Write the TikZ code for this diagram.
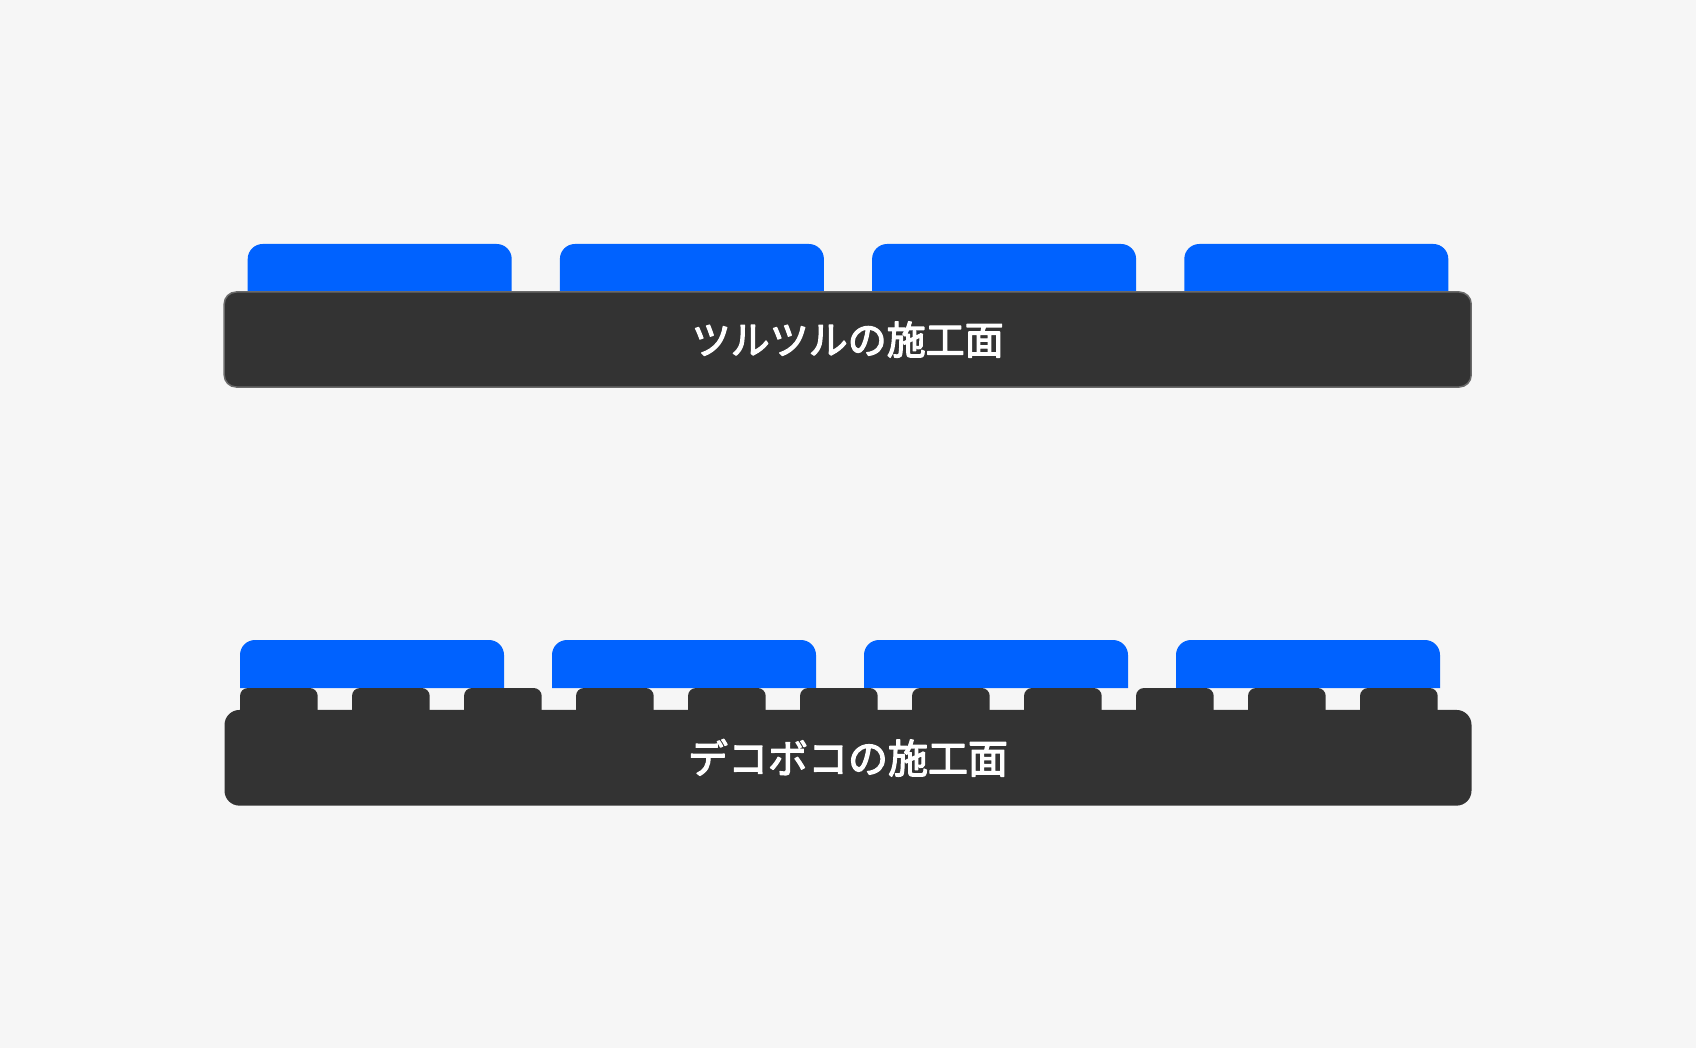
\documentclass[tikz,border=0pt]{standalone}
\usepackage{fontspec}
\newfontfamily\cjk{Noto Sans CJK JP}
\newcommand{\heavytext}[1]{\special{pdf:literal 2 Tr 1.2 w 1 J 1 j}#1\special{pdf:literal 0 Tr}}
\definecolor{bg}{HTML}{F6F6F6}
\definecolor{tileblue}{HTML}{0062FF}
\definecolor{dark}{HTML}{333333}
\definecolor{edge}{HTML}{6A6A6A}
\tikzset{
  tile/.style={fill=tileblue},
  tooth/.style={fill=dark},
  basebox/.style={fill=dark, minimum width=1247pt, minimum height=95pt, inner sep=0pt,
    text=white, font=\cjk\fontsize{39}{39}\selectfont},
}
\begin{document}
\begin{tikzpicture}[x=1pt,y=-1pt]
\useasboundingbox (0,0) rectangle (1696,1048);
\fill[bg] (0,0) rectangle (1696,1048);
% top: smooth surface
\foreach \i in {0,1,2,3} {
  \pgfmathsetmacro{\xa}{247.7+\i*312.2}
  \pgfmathsetmacro{\xb}{\xa+264}
  \fill[tile] (\xa,300) [rounded corners=15pt] -- (\xa,244) -- (\xb,244) [sharp corners] -- (\xb,300) -- cycle;
}
\node[basebox, draw=edge, line width=1.5pt, rounded corners=12pt] (smooth) at (847.7,339.5) {\heavytext{ツルツルの施工面}};
% bottom: rough surface
\foreach \i in {0,1,2,3} {
  \pgfmathsetmacro{\xa}{240+\i*312}
  \pgfmathsetmacro{\xb}{\xa+264}
  \fill[tile] (\xa,688) [rounded corners=15pt] -- (\xa,640) -- (\xb,640) [sharp corners] -- (\xb,688) -- cycle;
}
\foreach \i in {0,...,10} {
  \pgfmathsetmacro{\xa}{240+\i*112}
  \pgfmathsetmacro{\xb}{\xa+77.7}
  \fill[tooth] (\xa,720) [rounded corners=8pt] -- (\xa,688) -- (\xb,688) [sharp corners] -- (\xb,720) -- cycle;
}
\node[basebox, minimum height=95.7pt, rounded corners=15pt] (rough) at (848,757.8) {\fontsize{40}{40}\selectfont\heavytext{デコボコの施工面}};
\end{tikzpicture}
\end{document}
